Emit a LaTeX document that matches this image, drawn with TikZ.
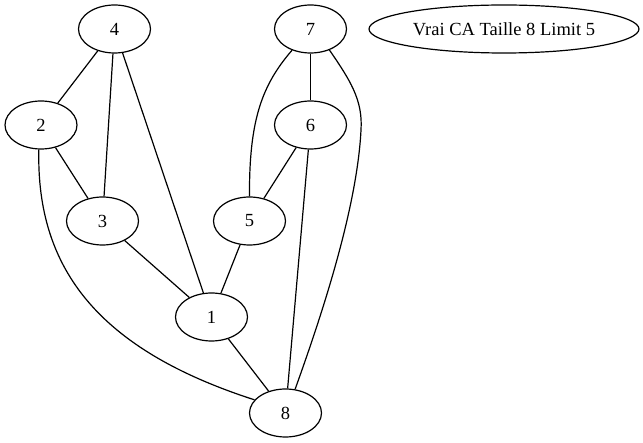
\documentclass[tikz,border=0pt]{standalone}
\usepackage{fontspec}
\setmainfont{Liberation Serif}
\usetikzlibrary{shapes.geometric}
\begin{document}
\begin{tikzpicture}[x=1pt,y=-1pt,
  vertex/.style={draw,ellipse,minimum width=72pt,minimum height=48pt,inner sep=0pt,line width=1.2pt,font=\fontsize{18.5}{22}\selectfont},
  edge/.style={line width=1.2pt}]
\useasboundingbox (0,0) rectangle (643,443);
\node[vertex] (n4) at (114.5,29) {4};
\node[vertex] (n7) at (310.5,29) {7};
\node[vertex,minimum width=270pt] (lab) at (504,29) {Vrai CA Taille 8 Limit 5};
\node[vertex] (n2) at (41,125) {2};
\node[vertex] (n6) at (310.5,125) {6};
\node[vertex] (n3) at (102.5,221) {3};
\node[vertex] (n5) at (249.5,221) {5};
\node[vertex] (n1) at (211.5,317) {1};
\node[vertex] (n8) at (285.5,413) {8};
\draw[edge] (n4) -- (n2);
\draw[edge] (n4) -- (n3);
\draw[edge] (n4) -- (n1);
\draw[edge] (n2) -- (n3);
\draw[edge] (n3) -- (n1);
\draw[edge] (n5) -- (n1);
\draw[edge] (n1) -- (n8);
\draw[edge] (n7) -- (n6);
\draw[edge] (n6) -- (n5);
\draw[edge] (n6) -- (n8);
\draw[edge] (n2.265) .. controls (36,270) and (100,350) .. (n8.157);
\draw[edge] (n7.229) .. controls (262,85) and (249,120) .. (n5.north);
\draw[edge] (n7.312) .. controls (350,80) and (363,100) .. (361,130) .. controls (357,210) and (320,320) .. (n8.68);
\end{tikzpicture}
\end{document}
